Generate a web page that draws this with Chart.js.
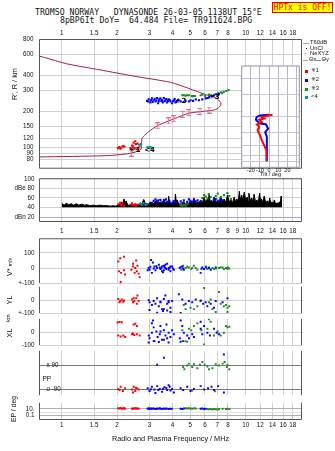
<!DOCTYPE html>
<html>
<head>
<meta charset="utf-8">
<title>Tromso Dynasonde 26-03-05 1138UT</title>
<script src="https://cdn.jsdelivr.net/npm/chart.js@4.4.1/dist/chart.umd.min.js"></script>
<style>
  html, body { margin: 0; padding: 0; background: #fff; }
  #sheet { position: relative; width: 335px; height: 451px; overflow: hidden;
           font-family: "Liberation Sans", Arial, sans-serif; color: #111; }
  #sheet canvas { position: absolute; left: 0; }
  .t { position: absolute; white-space: pre; line-height: 1; }
  .head { font-family: "DejaVu Sans Mono", monospace; font-size: 8.2px; }
  .ax { font-size: 7.3px; }
  .rot { transform: translate(-50%, -50%) rotate(-90deg); }
  .lg { font-size: 5.8px; }
  .sym { font-family: "DejaVu Sans", sans-serif; }
  .sw { position: absolute; }
</style>
</head>
<body>
<div id="sheet">
  <div class="t head" style="left:35px;top:8px">TROMSO NORWAY   DYNASONDE 26-03-05 1138UT 15°E</div>
  <div class="t head" style="left:60px;top:16px">8pBP6It DoY=  64.484 File= TR911624.BPG</div>
  <div class="t head" style="left:272px;top:2px;width:59px;height:9px;border:1px solid #e00;background:#ffff00;color:#f00;font-size:8px;line-height:9px;text-align:center">HPTx is OFF!</div>

  <canvas id="cHeight" width="335" height="153" style="top:25px"></canvas>
  <canvas id="cTilt" width="70" height="118" style="left:236px;top:62px"></canvas>
  <canvas id="cAmp" width="335" height="70" style="top:170px"></canvas>
  <canvas id="cV" width="335" height="62" style="top:230px"></canvas>
  <canvas id="cYL" width="335" height="44" style="top:278px"></canvas>
  <canvas id="cXL" width="335" height="44" style="top:310px"></canvas>
  <canvas id="cPP" width="335" height="66" style="top:340px"></canvas>
  <canvas id="cEP" width="335" height="57" style="top:394px"></canvas>

  <!-- axis titles -->
  <div class="t ax rot" style="left:14.5px;top:84px">R', R / km</div>
  <div class="t ax rot" style="left:9.5px;top:266.5px">V* <span style="font-size:5px">m/s</span></div>
  <div class="t ax rot" style="left:9.5px;top:300px">YL</div>
  <div class="t rot" style="left:9px;top:318px;font-size:5.5px">km</div>
  <div class="t ax rot" style="left:9.5px;top:332.5px">XL</div>
  <div class="t" style="left:42.5px;top:376px;font-size:6.5px">PP</div>
  <div class="t rot" style="left:14px;top:409px;font-size:6.8px">EP / deg</div>

  <!-- legend -->
  <div class="sw" style="left:303px;top:43px;width:6px;border-top:1px solid #aaa"></div>
  <div class="t lg" style="left:310px;top:40.3px">T60dB</div>
  <div class="sw" style="left:306px;top:48px;width:1px;height:1px;background:#000"></div>
  <div class="t lg" style="left:310px;top:45.8px">UnCl</div>
  <div class="t lg" style="left:303.5px;top:51px;color:#e0709a">+</div>
  <div class="t lg" style="left:310px;top:51px">NeXYZ</div>
  <div class="sw" style="left:303px;top:60px;width:5px;border-top:1px solid #f08080"></div>
  <div class="t lg" style="left:309px;top:57.4px">Θx</div>
  <div class="sw" style="left:316px;top:60px;width:5px;border-top:1px solid #8080f0"></div>
  <div class="t lg" style="left:321.5px;top:57.4px">Θy</div>
  <div class="sw" style="left:305px;top:70px;width:3px;height:3px;background:#f00"></div>
  <div class="t lg" style="left:311px;top:68.3px"><span class="sym">✳</span>1</div>
  <div class="sw" style="left:305px;top:79px;width:3px;height:3px;background:#00f"></div>
  <div class="t lg" style="left:311px;top:77.3px"><span class="sym">✳</span>2</div>
  <div class="sw" style="left:305px;top:88px;width:3px;height:3px;background:#1e8c1e"></div>
  <div class="t lg" style="left:311px;top:86px"><span class="sym">✳</span>3</div>
  <div class="sw" style="left:305px;top:96px;width:3px;height:3px;background:#00a0a0"></div>
  <div class="t lg" style="left:311px;top:94.3px">&lt;4</div>
</div>

<script>
// ---- axes ----
const freqTicks = [1, 1.5, 2, 3, 4, 5, 6, 7, 8, 10, 12, 14, 16, 18];
const freqTicksMid = [1, 1.5, 2, 3, 4, 5, 6, 7, 8, 9, 10, 12, 14, 16, 18];
const heightTicks = [800, 600, 400, 300, 200, 150, 120, 100, 90, 80];
const tiltHeightTicks = [400, 300, 200, 150, 120, 100, 90];
const tiltTicks = [-20, -10, 0, 10, 20, 30];
const ampTicks = [100, 80, 60, 40, 20];

// ---- profile (plasma frequency MHz, height km) ----
const profile = [[0.757,83.6],[1.72,85.6],[2.21,88.3],[2.51,91.9],[2.70,97.5],[2.71,107],[2.73,119],
  [2.78,124],[2.97,136],[3.30,152],[3.81,167],[4.07,174],[4.91,194],[5.57,199],[6.06,202],[6.87,208],
  [7.31,225],[7.31,238],[6.87,261],[6.06,277],[4.91,312],[3.90,351],[2.455,396],[1.614,446],
  [1.061,502],[0.807,566],[0.757,580]];
const profileErr = [[2.39,90],[3.30,152],[3.81,167],[4.07,174],[4.55,190],[4.91,196],[5.64,201],[6.32,206]];

// ---- virtual heights by mode ----
const o1Height = [[2.02,99],[2.05,101],[2.08,98],[2.11,100],[2.15,103],[2.19,102],[2.36,99],[2.41,104],
  [2.46,110],[2.51,113],[2.53,107],[2.58,108],[2.62,100],[2.49,99],[2.55,97],[2.38,97],[2.44,102]];
const o2Height = [[2.91,246],[2.97,253],[3.03,239],[3.09,258],[3.16,249],[3.23,243],[3.30,260],[3.34,235],
  [3.39,253],[3.48,246],[3.54,239],[3.59,260],[3.66,249],[3.74,239],[3.81,253],[3.90,243],[3.98,235],
  [4.07,249],[4.15,239],[4.24,246],[4.43,243],[4.71,246],[4.91,243],[5.01,249],[5.17,246],[5.35,253],
  [5.57,249],[5.81,253],[6.06,258],[6.19,260],[6.32,263],[6.59,269],[6.73,274],[7.02,277],[7.16,280],
  [2.95,243],[3.06,249],[3.12,241],[3.20,256],[3.27,248],[3.37,244],[3.44,258],[3.51,250],[3.62,244],
  [3.70,255],[3.78,246],[3.86,250],[4.02,244],[4.11,254],[4.19,241],[4.30,250]];
const o3Height = [[4.52,274],[4.61,274],[4.71,272],[4.81,274],[4.91,274],[5.09,269],[5.17,269],[5.30,270],
  [5.69,274],[5.81,277],[6.01,270],[6.32,277],[6.45,274],[6.87,280],[7.11,285],[7.33,290],[7.46,285],
  [7.61,293],[7.85,297],[8.07,303]];
const o4Height = [[2.63,106],[2.67,104],[2.70,107],[2.92,101],[2.97,100],[3.02,101],[3.07,100]];
const modeTags = [['✳1', 2.50, 96], ['<4', 3.0, 96], ['✳2', 4.45, 243], ['✳3', 6.75, 262]];

// ---- tilt (deg, height km) ----
const tiltX = [[-2.5,92],[-2.9,109],[-5.4,120],[-7.9,131],[-10.1,144],[-12.6,157],[-10.9,167],[-13.4,174],
  [-7.9,182],[-10.9,190],[-5.4,194],[-7.9,199],[-2.9,203],[3.7,208]];
const tiltY = [[-2.5,90],[-2.5,117],[-2.5,140],[-4.3,152],[-1.1,162],[-3.6,175],[-10.1,177],[-14.5,190],
  [-13.7,199],[-10.1,205],[0,208]];

// ---- amplitude dBe ----
const ampTrace = [[1.00,49],[1.03,45],[1.06,49],[1.09,46],[1.13,48],[1.16,45],[1.20,48],[1.24,45],[1.28,47],
  [1.33,45],[1.37,46],[1.42,44],[1.48,45],[1.54,44],[1.61,45],[1.68,44],[1.76,44],[1.84,43],[1.91,44],
  [1.97,43],[2.03,45],[2.08,47],[2.12,52],[2.15,47],[2.18,58],[2.21,50],[2.24,54],[2.28,46],[2.31,45],
  [2.36,45],[2.41,46],[2.48,45],[2.56,47],[2.61,46],[2.67,50],[2.72,47],[2.79,57],[2.85,48],[2.91,49],
  [2.97,47],[3.03,52],[3.09,48],[3.16,49],[3.23,53],[3.30,55],[3.37,49],[3.44,52],[3.51,48],[3.59,58],
  [3.66,50],[3.74,52],[3.78,47],[3.81,64],[3.86,48],[3.90,50],[3.98,47],[4.07,55],[4.11,48],[4.15,68],
  [4.20,50],[4.24,56],[4.33,47],[4.43,48],[4.52,45],[4.61,52],[4.71,47],[4.81,50],[4.91,48],[5.01,55],
  [5.12,49],[5.23,60],[5.35,48],[5.46,52],[5.57,50],[5.69,56],[5.81,50],[5.94,62],[6.06,51],[6.19,58],
  [6.25,50],[6.32,68],[6.42,52],[6.52,55],[6.62,50],[6.72,62],[6.87,52],[7.03,54],[7.16,50],[7.32,64],
  [7.48,52],[7.64,58],[7.80,50],[7.96,66],[8.14,52],[8.31,56],[8.48,50],[8.66,62],[8.80,52],[8.95,58],
  [9.10,50],[9.23,74],[9.35,56],[9.52,66],[9.65,54],[9.81,72],[10.0,56],[10.2,62],[10.3,52],[10.4,70],
  [10.6,54],[10.8,60],[10.95,50],[11.1,68],[11.3,52],[11.5,56],[11.7,50],[11.9,70],[12.05,52],[12.2,58],
  [12.4,50],[12.6,64],[12.85,50],[13.1,54],[13.3,48],[13.5,60],[13.7,48],[13.9,52],[14.1,47],[14.3,56],
  [14.55,47],[14.8,50],[15.0,46],[15.2,52],[15.4,48],[15.6,64],[15.62,41]];
const o1Amp = [[2.03,47],[2.07,50],[2.10,45],[2.14,48],[2.18,44],[2.36,46],[2.41,49],[2.45,45],[2.50,47],
  [2.54,44],[2.58,46]];
const o2Amp = [[3.09,50],[3.16,54],[3.23,57],[3.30,52],[3.35,55],[3.44,56],[3.52,51],[3.61,55],[3.68,57],
  [3.75,52],[3.85,54],[3.95,50],[4.05,53],[4.15,51],[4.43,53],[4.52,50],[4.61,55],[4.81,52],[4.91,57],
  [5.01,54],[5.12,51],[5.23,56],[5.35,53],[5.48,55],[5.69,52],[6.71,56],[6.87,58],[7.05,54],[7.30,57],[7.49,55]];
const o3Amp = [[4.43,45],[4.52,43],[4.61,46],[4.71,44],[4.81,47],[5.81,60],[5.94,66],[6.06,63],[6.19,59],
  [6.30,68],[6.45,62],[6.87,64],[7.05,69],[7.31,61],[7.61,66],[7.96,70],[8.14,64],[8.31,58]];
const o4Amp = [[2.67,48],[2.72,46],[2.78,49],[2.85,46],[2.91,47]];

// ---- doppler velocity V* m/s ----
const vRed = [[2.03,42],[2.08,64],[2.18,74],[2.05,-22],[2.10,-32],[2.18,-15],[2.09,-92],[2.21,-43],[2.44,28],
  [2.54,49],[2.44,10],[2.39,-11],[2.51,0],[2.56,-22],[2.62,-37],[2.49,-32],[2.65,-60],[2.58,15]];
const vBlue = [[2.97,0],[3.00,-11],[3.06,53],[3.13,36],[3.19,10],[3.23,-15],[3.30,0],[3.37,21],[3.44,-6],
  [3.51,-22],[3.59,15],[3.66,0],[3.74,28],[3.81,-11],[3.90,10],[3.09,-32],[2.93,-15],[3.55,-28],[3.51,10],
  [3.66,21],[3.81,0],[3.98,10],[4.07,-11],[3.59,-15],[3.90,-22],[4.38,0],[4.52,10],[4.61,-11],[5.69,-32],
  [5.81,4],[5.94,-6],[6.32,0],[6.45,-11],[6.87,4],[3.03,8],[3.16,-4],[3.27,12],[3.41,3],[3.48,-2],[3.62,6],
  [3.70,-6],[3.86,2],[4.02,-3],[4.43,5],[4.57,-4],[5.75,-5],[6.10,3]];
const vGreen = [[4.57,15],[4.71,0],[4.91,4],[5.06,-6],[5.23,15],[5.35,0],[6.06,10],[6.19,-6],[6.59,0],
  [6.72,-6],[7.16,0],[7.49,4],[7.61,-6],[7.81,0],[7.96,-6],[8.14,-4],[5.46,-11],[4.47,-11],[4.81,8],
  [5.12,2],[6.30,4],[6.90,-3],[7.30,5],[8.00,3]];

// ---- echo location YL / XL km ----
const ylRed = [[2.03,7],[2.08,-7],[2.12,3],[2.16,-14],[2.06,-17],[2.18,-3],[2.41,3],[2.48,-7],[2.54,14],
  [2.58,34],[2.44,-17],[2.62,-7],[2.56,-28],[2.46,14]];
const ylBlue = [[2.97,-1],[3.00,-17],[3.09,-38],[3.16,-7],[3.23,-28],[3.30,14],[3.37,-48],[3.44,-14],
  [3.51,-69],[3.59,7],[3.66,34],[3.74,-28],[3.81,-7],[3.90,-59],[3.00,-75],[3.30,-96],[3.55,-83],[3.74,-80],
  [3.44,-17],[3.81,-17],[3.98,-7],[4.33,44],[4.52,3],[4.71,-28],[4.91,-7],[5.12,-17],[5.35,3],[5.69,-3],
  [5.87,-28],[6.06,-17],[6.19,-48],[6.45,-28],[6.72,-59],[6.87,-7],[7.49,-17],[7.96,14],[3.59,-69],
  [3.90,-90],[4.43,-98]];
const ylGreen = [[4.61,-38],[4.71,-69],[5.01,-59],[5.23,-69],[5.46,-48],[5.94,91],[6.32,-17],[6.45,3],
  [6.59,-69],[7.16,60],[7.31,-28],[7.61,-48],[7.81,-38],[7.96,-59],[8.14,-48],[5.69,-7],[6.87,-90],[7.96,-90]];
const xlRed = [[2.01,71],[2.06,75],[2.12,73],[2.46,56],[2.51,62],[2.56,46],[2.03,-27],[2.09,-34],[2.16,-27],
  [2.21,-38],[2.41,-17],[2.48,-23],[2.56,-17],[2.65,-27],[2.44,-11]];
const xlBlue = [[2.97,-27],[3.00,-48],[3.09,-6],[3.19,-69],[3.27,4],[3.32,-38],[3.41,-17],[3.51,-59],
  [3.59,14],[3.66,-27],[3.74,-48],[3.81,-6],[3.90,-38],[3.16,35],[3.44,46],[3.71,56],[3.09,66],[3.13,87],
  [3.44,4],[3.98,14],[4.07,-17],[4.43,87],[4.52,46],[4.61,-6],[4.81,-27],[4.91,-48],[5.12,-17],[5.23,-38],
  [5.69,77],[5.81,-17],[6.19,-6],[6.39,-27],[6.72,25],[6.95,-6],[7.16,-17],[5.69,25],[5.94,46],[4.38,-48],
  [2.97,-79],[3.16,-69],[3.37,-75],[3.59,-59],[3.81,-79],[4.43,-73],[4.57,-69]];
const xlGreen = [[4.52,14],[4.71,-69],[4.91,25],[5.06,14],[5.23,46],[5.46,66],[5.74,14],[5.94,-94],
  [6.19,25],[6.45,77],[6.72,-27],[7.31,-27],[7.81,46],[7.96,35],[8.14,40],[6.32,97],[7.03,4],[7.61,-6],[4.81,-73]];

// ---- polarization PP deg ----
const ppRed = [[2.03,-88],[2.09,-71],[2.15,-103],[2.21,-82],[2.41,-92],[2.46,-71],[2.51,-103],[2.56,-82],
  [2.62,-92],[2.44,-114],[2.06,-95],[2.53,-78]];
const ppBlue = [[2.93,-82],[3.00,-103],[3.09,-71],[3.19,-92],[3.30,-66],[3.41,-88],[3.51,-109],[3.62,-75],
  [3.74,-96],[3.86,-71],[3.98,-88],[4.07,-114],[4.43,-82],[4.57,-96],[4.81,-71],[5.01,-103],[5.23,-88],
  [5.69,-66],[5.94,-92],[6.24,-82],[6.52,-71],[6.72,-96],[7.08,-66],[7.61,-114],[3.81,-60],[3.23,-118],
  [3.59,150],[3.30,96],[7.61,175],[3.05,-90],[3.35,-95],[3.55,-85],[3.70,-80],[3.90,-100]];
const ppGreen = [[4.57,79],[4.64,62],[4.81,90],[4.91,105],[5.12,79],[5.23,101],[5.46,69],[5.81,118],
  [5.98,96],[6.19,83],[6.32,62],[6.59,69],[6.87,101],[7.16,90],[7.49,105],[7.68,118],[7.96,96],[8.14,62],
  [7.90,79],[5.64,96],[5.12,-100],[6.80,-105]];

// ---- EP deg ----
const epRed = [[2.03,14],[2.06,12],[2.09,16],[2.12,11],[2.15,13],[2.18,15],[2.21,12],[2.41,13],[2.44,11],
  [2.48,15],[2.51,12],[2.54,14],[2.58,10],[2.62,13]];
const epBlue = [[2.93,11],[2.97,14],[3.00,9],[3.05,12],[3.09,10],[3.14,13],[3.19,11],[3.25,9],[3.30,12],
  [3.36,10],[3.41,14],[3.47,11],[3.53,9],[3.59,12],[3.66,10],[3.72,13],[3.80,9],[3.88,11],[3.96,10],
  [4.43,11],[4.52,9],[4.61,12],[5.69,10],[5.81,12],[5.94,9],[6.06,11]];
const epGreen = [[4.71,14],[4.81,12],[4.91,15],[5.01,13],[5.12,11],[5.23,14],[5.35,12],[6.19,9],[6.32,7],
  [6.45,8],[6.59,6],[6.72,9],[6.87,7],[7.03,6],[7.16,8],[7.49,10],[7.81,8],[7.96,11],[8.14,9]];

// ---- styling ----
const RED = '#ff0000', BLUE = '#0000ff', GREEN = '#1e8c1e', CYAN = '#00a0a0';
const GRID = '#cfcfcf', FRAME = '#555';
const FMIN = 0.757, FMAX = 20.1;
const AXIS_W = 39.5, RIGHT_PAD = 33.5;

Chart.defaults.font.family = '"Liberation Sans", Arial, sans-serif';
Chart.defaults.font.size = 6.3;
Chart.defaults.color = '#111';
Chart.defaults.animation = false;
Chart.defaults.events = [];

const pts = a => a.map(p => ({ x: p[0], y: p[1] }));
const fixedTicks = vals => s => { s.ticks = vals.map(v => ({ value: v })); };

function dots(data, color, r) {
  return { data: pts(data), showLine: false, pointStyle: 'rect', pointRadius: r || 1.4,
    pointBorderWidth: 0, pointBackgroundColor: color, borderColor: color, backgroundColor: color };
}

function freqScale(ticks, o) {
  return {
    type: 'logarithmic', min: FMIN, max: FMAX, position: o.position || 'bottom',
    afterBuildTicks: fixedTicks(ticks),
    afterFit: s => { s.height = o.height || 0; },
    border: { display: false },
    grid: { color: GRID, drawTicks: false },
    ticks: { display: !!o.labels, padding: o.pad || 0, autoSkip: false, maxRotation: 0, callback: v => String(v) },
    title: o.title ? { display: true, text: o.title, font: { size: 7.3 }, color: '#111',
      padding: { top: 7.6, bottom: 7.6 } } : { display: false }
  };
}

function sideScale(type, min, max, ticks, labels, o) {
  o = o || {};
  return {
    type, min, max,
    afterBuildTicks: fixedTicks(ticks),
    afterFit: s => { s.width = AXIS_W; },
    border: { display: false },
    grid: { color: o.gridColor || GRID, drawTicks: false },
    ticks: { padding: o.pad === undefined ? 5 : o.pad, mirror: !!o.mirror, autoSkip: false,
      callback: v => (labels ? (v in labels ? labels[v] : '') : String(v)) }
  };
}

// outline of the plot area, optional background fill
function frame(sides, color, fill) {
  return {
    id: 'frame',
    beforeDraw(chart) {
      if (!fill) return;
      const a = chart.chartArea;
      chart.ctx.save();
      chart.ctx.fillStyle = fill;
      chart.ctx.fillRect(a.left, a.top, a.right - a.left, a.bottom - a.top);
      chart.ctx.restore();
    },
    afterDraw(chart) {
      const { ctx, chartArea: a } = chart;
      ctx.save();
      ctx.strokeStyle = color;
      ctx.lineWidth = 1;
      ctx.beginPath();
      if (sides.includes('t')) { ctx.moveTo(a.left, a.top); ctx.lineTo(a.right, a.top); }
      if (sides.includes('b')) { ctx.moveTo(a.left, a.bottom); ctx.lineTo(a.right, a.bottom); }
      if (sides.includes('l')) { ctx.moveTo(a.left, a.top); ctx.lineTo(a.left, a.bottom); }
      if (sides.includes('r')) { ctx.moveTo(a.right, a.top); ctx.lineTo(a.right, a.bottom); }
      ctx.stroke();
      ctx.restore();
    }
  };
}

// mode names written next to their traces
const tagPlugin = {
  id: 'tags',
  afterDatasetsDraw(chart) {
    const { ctx, scales: { x, y } } = chart;
    ctx.save();
    ctx.font = 'bold 7px "DejaVu Sans", sans-serif';
    ctx.fillStyle = '#000';
    ctx.textAlign = 'center';
    ctx.textBaseline = 'middle';
    modeTags.forEach(([txt, f, h]) => ctx.fillText(txt, x.getPixelForValue(f), y.getPixelForValue(h)));
    ctx.restore();
  }
};

// "I" shaped marker for the profile error bars
function errMark(color) {
  const c = document.createElement('canvas');
  c.width = 5; c.height = 7;
  const g = c.getContext('2d');
  g.fillStyle = color;
  g.fillRect(2, 0, 1, 7);
  g.fillRect(0, 0, 5, 1);
  g.fillRect(0, 6, 5, 1);
  return c;
}

function panel(id, padding, scales, datasets, plugins) {
  return new Chart(document.getElementById(id), {
    type: 'line',
    data: { datasets },
    options: {
      responsive: false,
      layout: { padding },
      scales,
      plugins: { legend: { display: false }, tooltip: { enabled: false } }
    },
    plugins
  });
}

// height panel
panel('cHeight', { left: 0, right: RIGHT_PAD, top: 0, bottom: 0.5 }, {
  x: freqScale(freqTicks, { position: 'top', height: 14.5, pad: 2.6, labels: true }),
  y: sideScale('logarithmic', 67.3, 800, heightTicks, null, { pad: 6 })
}, [
  dots(o2Height, BLUE, 1.5),
  dots(o3Height, GREEN, 1.5),
  dots(o1Height, RED, 1.5),
  dots(o4Height, CYAN, 1.5),
  { data: pts(profileErr), showLine: false, pointStyle: errMark('#e0709a'), pointRadius: 3 },
  { data: pts(profile), showLine: true, borderColor: '#a51d4f', borderWidth: 1, pointRadius: 0, tension: 0.25, fill: false }
], [frame('tlrb', FRAME), tagPlugin]);

// tilt inset
panel('cTilt', { left: 5.7, right: 6.7, top: 4, bottom: 0 }, {
  x: {
    type: 'linear', min: -30, max: 33,
    afterBuildTicks: fixedTicks(tiltTicks),
    afterFit: s => { s.height = 12.7; },
    border: { display: false },
    grid: { color: '#b4b4cc', drawTicks: false },
    ticks: { padding: 0, autoSkip: false, maxRotation: 0, font: { size: 5.5 }, callback: v => (v === 30 ? '' : String(v)) },
    title: { display: true, text: 'Tilt / deg', font: { size: 5.5 }, color: '#111', padding: { top: 2.2, bottom: 2.2 } }
  },
  y: {
    type: 'logarithmic', min: 80.9, max: 498,
    afterBuildTicks: fixedTicks(tiltHeightTicks),
    afterFit: s => { s.width = 0; },
    border: { display: false },
    grid: { color: '#c4c4d8', drawTicks: false },
    ticks: { display: false }
  }
}, [
  { data: pts(tiltX), showLine: true, borderColor: RED, borderWidth: 2, pointRadius: 0, tension: 0 },
  { data: pts(tiltY), showLine: true, borderColor: BLUE, borderWidth: 2, pointRadius: 0, tension: 0 }
], [frame('tlrb', '#9090a8', '#ffffff')]);

// amplitude panel
panel('cAmp', { left: 0, right: RIGHT_PAD, top: 7.5, bottom: 0 }, {
  x: freqScale(freqTicksMid, { height: 18.5, pad: 5.9, labels: true }),
  y: sideScale('linear', 11, 100, ampTicks, { 100: '100', 80: 'dBe 80', 60: '60', 40: '40', 20: 'dBn 20' },
    { gridColor: c => (c.tick && c.tick.value === 20 ? '#a8a8ee' : GRID) })
}, [
  dots(o1Amp, RED, 1.5),
  dots(o4Amp, CYAN, 1.5),
  dots(o2Amp, BLUE, 1.5),
  dots(o3Amp, GREEN, 1.5),
  { data: pts(ampTrace), showLine: true, borderColor: '#000', borderWidth: 1, backgroundColor: '#000',
    pointRadius: 0, tension: 0, fill: { value: 40.5 } }
], [frame('tlrb', FRAME)]);

// V*
panel('cV', { left: 0, right: RIGHT_PAD, top: 8.5, bottom: 8 }, {
  x: freqScale(freqTicks, {}),
  y: sideScale('linear', -100, 192, [100, 0, -100], { 100: '100', 0: '0', '-100': '+-100' })
}, [dots(vRed, RED), dots(vBlue, BLUE), dots(vGreen, GREEN)], [frame('tlr', FRAME)]);

// YL
panel('cYL', { left: 0, right: RIGHT_PAD, top: 6, bottom: 5.7 }, {
  x: freqScale(freqTicks, {}),
  y: sideScale('linear', -100, 100, [0, -100], { 0: '0', '-100': '+-100' })
}, [dots(ylRed, RED), dots(ylBlue, BLUE), dots(ylGreen, GREEN)], [frame('lr', FRAME)]);

// XL
panel('cXL', { left: 0, right: RIGHT_PAD, top: 6.3, bottom: 6.5 }, {
  x: freqScale(freqTicks, {}),
  y: sideScale('linear', -100, 100, [0, -100], { 0: '0', '-100': '-100' })
}, [dots(xlRed, RED), dots(xlBlue, BLUE), dots(xlGreen, GREEN)], [frame('lr', FRAME)]);

// PP
panel('cPP', { left: 0, right: RIGHT_PAD, top: 7.5, bottom: 6 }, {
  x: freqScale(freqTicks, {}),
  y: sideScale('linear', -135, 202.5, [90, -90], { 90: 'x 90', '-90': 'o -90' },
    { mirror: true, pad: 7, gridColor: '#7a7a7a' })
}, [dots(ppRed, RED), dots(ppBlue, BLUE), dots(ppGreen, GREEN)], [frame('lr', FRAME)]);

// EP
panel('cEP', { left: 0, right: RIGHT_PAD, top: 6, bottom: 0 }, {
  x: freqScale(freqTicks, { height: 31.5, pad: 1.9, labels: true, title: 'Radio and Plasma Frequency / MHz' }),
  y: sideScale('logarithmic', 0.0075, 562, [10, 1, 0.1], { 10: '10.', 1: '', 0.1: '0.1' },
    { gridColor: c => (c.tick && c.tick.value === 1 ? '#e2e2e2' : '#b0b0b0') })
}, [dots(epRed, RED), dots(epBlue, BLUE), dots(epGreen, GREEN)], [frame('lrb', FRAME)]);
</script>
</body>
</html>
